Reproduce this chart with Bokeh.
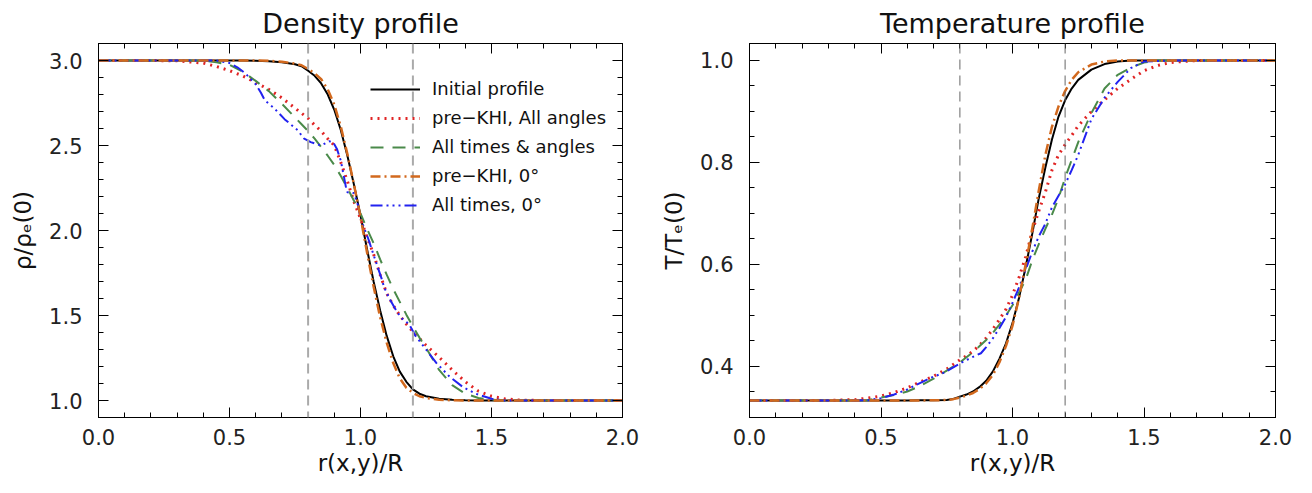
from bokeh.plotting import figure
from bokeh.layouts import row
from bokeh.models import (Range1d, FixedTicker, LinearAxis, PrintfTickFormatter,
                          CustomJSTickFormatter, Span, Legend, LegendItem)
from bokeh.embed import file_html
from bokeh.resources import INLINE
import numpy as np

# ---------------- data ----------------
r_grid = [0.0, 0.1, 0.2, 0.3, 0.4, 0.45, 0.5, 0.55, 0.6, 0.65, 0.7, 0.75, 0.775, 0.8,
          0.825, 0.85, 0.875, 0.9, 0.925, 0.95, 0.975, 1.0, 1.025, 1.05, 1.075, 1.1,
          1.125, 1.15, 1.175, 1.2, 1.225, 1.25, 1.3, 1.35, 1.4, 1.45, 1.5, 1.55, 1.6,
          1.7, 1.8, 1.9, 2.0]

dens_initial = [3.0, 3.0, 3.0, 3.0, 3.0, 3.0, 3.0, 3.0, 2.999, 2.996, 2.99, 2.978, 2.966, 2.94,
                2.91, 2.865, 2.80, 2.71, 2.59, 2.44, 2.27, 2.09, 1.89, 1.70, 1.53, 1.38,
                1.26, 1.17, 1.11, 1.065, 1.04, 1.025, 1.01, 1.004, 1.001, 1.0, 1.0, 1.0, 1.0,
                1.0, 1.0, 1.0, 1.0]
dens_prekhi_all = [3.0, 3.0, 3.0, 2.998, 2.985, 2.965, 2.94, 2.91, 2.87, 2.83, 2.78, 2.72, 2.69, 2.66,
                   2.62, 2.585, 2.54, 2.50, 2.40, 2.29, 2.17, 2.07, 1.96, 1.86, 1.74, 1.63,
                   1.56, 1.50, 1.45, 1.405, 1.365, 1.325, 1.255, 1.18, 1.11, 1.055, 1.025, 1.01, 1.003,
                   1.0, 1.0, 1.0, 1.0]
dens_alltimes_all = [3.0, 3.0, 3.0, 3.0, 2.998, 2.99, 2.975, 2.935, 2.88, 2.82, 2.745, 2.665, 2.625, 2.585,
                     2.54, 2.49, 2.44, 2.385, 2.32, 2.25, 2.175, 2.10, 2.01, 1.925, 1.83, 1.74,
                     1.655, 1.58, 1.505, 1.435, 1.37, 1.31, 1.18, 1.09, 1.04, 1.015, 1.004, 1.0, 1.0,
                     1.0, 1.0, 1.0, 1.0]
dens_prekhi_0 = [3.0, 3.0, 3.0, 3.0, 3.0, 3.0, 3.0, 3.0, 3.0, 2.998, 2.993, 2.982, 2.972, 2.95,
                 2.925, 2.89, 2.83, 2.74, 2.61, 2.45, 2.27, 2.08, 1.87, 1.67, 1.49, 1.34,
                 1.22, 1.13, 1.075, 1.045, 1.025, 1.015, 1.005, 1.001, 1.0, 1.0, 1.0, 1.0, 1.0,
                 1.0, 1.0, 1.0, 1.0]
blue_dens_r = [0.0, 0.2, 0.4, 0.45, 0.5, 0.53, 0.56, 0.6, 0.62, 0.635, 0.67, 0.71, 0.76, 0.785,
               0.81, 0.85, 0.88, 0.895, 0.91, 0.925, 0.945, 0.95, 0.975, 0.99, 1.0, 1.03, 1.06,
               1.08, 1.09, 1.11, 1.14, 1.16, 1.185, 1.21, 1.25, 1.29, 1.34, 1.39, 1.44, 1.5,
               1.55, 1.7, 2.0]
dens_alltimes_0 = [3.0, 3.0, 3.0, 3.0, 2.985, 2.96, 2.925, 2.86, 2.81, 2.765, 2.72, 2.655, 2.59, 2.54,
                   2.52, 2.50, 2.525, 2.52, 2.48, 2.41, 2.25, 2.225, 2.22, 2.15, 2.07, 1.95, 1.81,
                   1.72, 1.667, 1.60, 1.52, 1.48, 1.45, 1.38, 1.30, 1.22, 1.14, 1.08, 1.04, 1.01,
                   1.0, 1.0, 1.0]

temp_initial = [0.3333, 0.3333, 0.3333, 0.3333, 0.3333, 0.3333, 0.3333, 0.3333, 0.3334, 0.3337, 0.334, 0.3345, 0.3365, 0.341,
                0.345, 0.351, 0.36, 0.372, 0.39, 0.415, 0.445, 0.485, 0.535, 0.595, 0.66, 0.73,
                0.79, 0.845, 0.89, 0.922, 0.945, 0.962, 0.982, 0.993, 0.998, 1.0, 1.0, 1.0, 1.0,
                1.0, 1.0, 1.0, 1.0]
temp_prekhi_all = [0.3333, 0.3333, 0.3333, 0.3335, 0.335, 0.338, 0.342, 0.349, 0.358, 0.37, 0.381, 0.395, 0.404, 0.413,
                   0.421, 0.43, 0.442, 0.456, 0.473, 0.492, 0.512, 0.54, 0.575, 0.615, 0.665, 0.705,
                   0.742, 0.785, 0.815, 0.835, 0.853, 0.872, 0.90, 0.923, 0.945, 0.963, 0.98, 0.99, 0.996,
                   1.0, 1.0, 1.0, 1.0]
temp_alltimes_all = [0.3333, 0.3333, 0.3333, 0.3333, 0.3333, 0.334, 0.339, 0.344, 0.351, 0.362, 0.376, 0.392, 0.40, 0.408,
                     0.418, 0.428, 0.44, 0.452, 0.466, 0.482, 0.50, 0.52, 0.545, 0.57, 0.608, 0.64,
                     0.67, 0.698, 0.73, 0.77, 0.805, 0.84, 0.897, 0.945, 0.972, 0.986, 0.996, 1.0, 1.0,
                     1.0, 1.0, 1.0, 1.0]
temp_prekhi_0 = [0.3333, 0.3333, 0.3333, 0.3333, 0.3333, 0.3333, 0.3333, 0.3333, 0.3333, 0.3335, 0.3338, 0.3343, 0.336, 0.339,
                 0.343, 0.348, 0.356, 0.367, 0.383, 0.408, 0.44, 0.48, 0.535, 0.60, 0.67, 0.745,
                 0.815, 0.87, 0.91, 0.94, 0.962, 0.977, 0.992, 0.998, 1.0, 1.0, 1.0, 1.0, 1.0,
                 1.0, 1.0, 1.0, 1.0]
blue_temp_r = [0.0, 0.2, 0.4, 0.45, 0.5, 0.55, 0.6, 0.65, 0.69, 0.74, 0.8, 0.85, 0.88, 0.9, 0.925,
               0.95, 0.975, 1.0, 1.025, 1.05, 1.075, 1.1, 1.125, 1.15, 1.175, 1.2, 1.225, 1.25,
               1.3, 1.35, 1.4, 1.45, 1.5, 1.6, 2.0]
temp_alltimes_0 = [0.3333, 0.3333, 0.3333, 0.334, 0.338, 0.345, 0.355, 0.368, 0.378, 0.388, 0.406, 0.419, 0.426, 0.438, 0.455,
                   0.475, 0.497, 0.525, 0.555, 0.59, 0.625, 0.655, 0.68, 0.712, 0.735, 0.757, 0.785, 0.815,
                   0.885, 0.927, 0.958, 0.985, 0.998, 1.0, 1.0]

boundary_r = [0.8, 1.2]
legend_labels = ["Initial profile", "pre\u2212KHI, All angles", "All times & angles",
                 "pre\u2212KHI, 0\u00b0", "All times, 0\u00b0"]
x_major = [0.0, 0.5, 1.0, 1.5, 2.0]
dens_major = [1.0, 1.5, 2.0, 2.5, 3.0]
temp_major = [0.4, 0.6, 0.8, 1.0]

# ---------------- styling ----------------
FONT = "DejaVu Sans"
styles = [
    dict(color="black", line_width=2, line_dash="solid"),
    dict(color="#e02424", line_width=3, line_dash="2 5"),
    dict(color="#4a8a4a", line_width=2, line_dash="13 9"),
    dict(color="#d2691e", line_width=2.5, line_dash="10 4 2 4"),
    dict(color="#2222f0", line_width=2, line_dash="12 4 2 4 2 4 2 4"),
]

blank = CustomJSTickFormatter(code="return ''")


def make_fig(title, ylabel, yr, ymaj, yminor, bl, br, span_color, span_width):
    p = figure(width=656, height=493, output_backend="svg", toolbar_location=None,
               x_range=Range1d(0, 2), y_range=Range1d(*yr),
               min_border_left=bl, min_border_right=br, min_border_top=43,
               min_border_bottom=76)
    p.title.text = title
    p.title.align = "center"
    p.title.text_font = FONT
    p.title.text_font_size = "27px"
    p.title.text_font_style = "normal"
    p.title.text_color = "#111111"
    p.title.offset = 0
    p.outline_line_color = "black"
    p.outline_line_width = 1
    p.xgrid.visible = False
    p.ygrid.visible = False

    xt = FixedTicker(ticks=x_major, minor_ticks=list(np.round(np.arange(0, 2.0001, 0.1), 3)))
    yt = FixedTicker(ticks=ymaj, minor_ticks=yminor)
    for ax, t in ((p.xaxis[0], xt), (p.yaxis[0], yt)):
        ax.ticker = t
        ax.formatter = PrintfTickFormatter(format="%.1f")
        ax.major_tick_in = 10
        ax.major_tick_out = 0
        ax.minor_tick_in = 5
        ax.minor_tick_out = 0
        ax.major_label_text_font = FONT
        ax.major_label_text_font_size = "21px"
        ax.major_label_text_color = "#222222"
        ax.axis_label_text_font = FONT
        ax.axis_label_text_font_size = "23px"
        ax.axis_label_text_font_style = "normal"
        ax.axis_label_text_color = "#111111"
    p.xaxis[0].axis_label = "r(x,y)/R"
    p.xaxis[0].major_label_standoff = 11
    p.xaxis[0].axis_label_standoff = 2
    p.yaxis[0].axis_label = ylabel
    p.yaxis[0].major_label_standoff = 16
    p.yaxis[0].axis_label_standoff = 10

    # mirrored tick axes
    top = LinearAxis(ticker=xt, formatter=blank, major_tick_in=10, major_tick_out=0,
                     minor_tick_in=5, minor_tick_out=0, major_label_standoff=0)
    right = LinearAxis(ticker=yt, formatter=blank, major_tick_in=10, major_tick_out=0,
                       minor_tick_in=5, minor_tick_out=0, major_label_standoff=0)
    p.add_layout(top, "above")
    p.add_layout(right, "right")

    for xv in boundary_r:
        p.add_layout(Span(location=xv, dimension="height", line_color=span_color,
                          line_width=span_width, line_dash="10 6"))
    return p


p1 = make_fig("Density profile", "\u03c1/\u03c1\u2091(0)", (0.9, 3.1), dens_major,
              list(np.round(np.arange(0.9, 3.1001, 0.1), 3)), 98, 34, "#aaaaaa", 2)
p2 = make_fig("Temperature profile", "T/T\u2091(0)", (0.3, 1.0333), temp_major,
              list(np.round(np.arange(0.3, 1.0334, 0.05), 3)), 93, 37, "#666666", 1)

dens_series = [(r_grid, dens_initial), (r_grid, dens_prekhi_all), (r_grid, dens_alltimes_all),
               (r_grid, dens_prekhi_0), (blue_dens_r, dens_alltimes_0)]
temp_series = [(r_grid, temp_initial), (r_grid, temp_prekhi_all), (r_grid, temp_alltimes_all),
               (r_grid, temp_prekhi_0), (blue_temp_r, temp_alltimes_0)]

order = [0, 1, 2, 4, 3]
renderers = {}
for i in order:
    xs, ys = dens_series[i]
    renderers[i] = p1.line(xs, ys, **styles[i])
    xs, ys = temp_series[i]
    p2.line(xs, ys, **styles[i])

legend = Legend(items=[LegendItem(label=legend_labels[i], renderers=[renderers[i]]) for i in range(5)],
                location=(272, 202), orientation="vertical",
                background_fill_alpha=0, border_line_alpha=0, padding=0, margin=0,
                glyph_width=50, glyph_height=20, label_height=20, spacing=8,
                label_standoff=12, label_text_font=FONT, label_text_font_size="18px",
                label_text_color="#111111")
p1.add_layout(legend)

layout = row(p1, p2)
open("out.html", "w").write(file_html(layout, INLINE))
